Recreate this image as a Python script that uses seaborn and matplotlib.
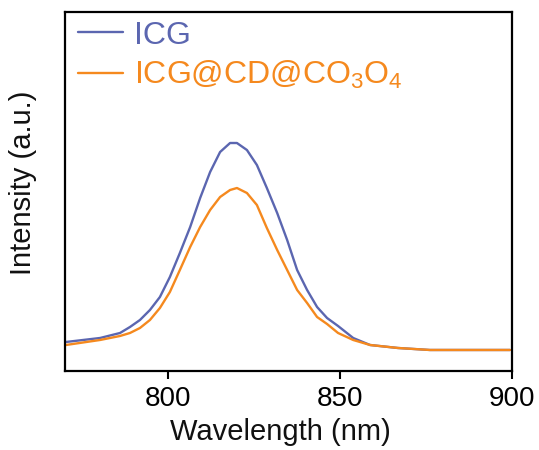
import matplotlib
matplotlib.use("Agg")
import matplotlib.pyplot as plt
import seaborn as sns
import pandas as pd

wl_icg = [770.3, 780.2, 786.0, 788.9, 791.8, 794.7, 797.6, 800.5, 803.4, 806.4, 809.3, 812.2,
          815.1, 818.0, 820.0, 822.9, 825.8, 828.7, 831.7, 834.6, 837.5, 840.4, 843.3, 846.2,
          849.4, 853.8, 858.7, 866.8, 876.1, 887.8, 899.4]
icg = [29, 33, 38, 44, 51, 61, 74, 94, 118, 144, 173, 199,
       219, 228, 228, 221, 206, 183, 158, 131, 101, 81, 64, 53,
       45, 33, 26, 23, 21, 21, 21]

wl_co = [770.3, 780.2, 786.0, 788.9, 791.8, 794.7, 797.6, 800.5, 803.4, 806.4, 809.3, 812.2,
         815.1, 818.0, 820.0, 822.9, 825.8, 828.7, 831.7, 834.6, 837.5, 840.4, 843.3, 846.2,
         849.4, 853.8, 858.7, 866.8, 876.1, 887.8, 899.4]
co = [26, 31, 35, 38, 43, 51, 63, 79, 101, 124, 144, 161,
      174, 181, 183, 178, 166, 143, 121, 101, 81, 68, 54, 47,
      38, 31, 26, 23, 21, 21, 21]

labels = ["ICG", "ICG@CD@CO$_3$O$_4$"]
colors = ["#5b66b0", "#f5891e"]
x_ticks = [800, 850, 900]

df = pd.concat([
    pd.DataFrame({"wl": wl_icg, "val": icg, "s": labels[0]}),
    pd.DataFrame({"wl": wl_co, "val": co, "s": labels[1]}),
])

sns.set_theme(style="white")
plt.rcParams["font.family"] = ["Liberation Sans", "DejaVu Sans"]
plt.rcParams["mathtext.fontset"] = "custom"
plt.rcParams["mathtext.rm"] = "Liberation Sans"
plt.rcParams["mathtext.it"] = "Liberation Sans"
plt.rcParams["mathtext.bf"] = "Liberation Sans"

fig = plt.figure(figsize=(5.39, 4.5), dpi=100)
ax = fig.add_axes([0.1206, 0.1756, 0.8294, 0.7977])
sns.lineplot(data=df, x="wl", y="val", hue="s", palette=colors, linewidth=1.7,
             sort=False, ax=ax, estimator=None)

ax.set_xlim(770, 900)
ax.set_ylim(0, 359)
ax.set_xticks(x_ticks)
ax.set_xticklabels([str(t) for t in x_ticks], fontsize=20, color="black")
ax.set_yticks([])
ax.tick_params(axis="x", direction="out", length=6, width=1.5, bottom=True, pad=5,
               colors="black")
for sp in ax.spines.values():
    sp.set_linewidth(1.6)
    sp.set_color("black")
ax.set_xlabel("Wavelength (nm)", fontsize=21, color="#111111")
ax.set_ylabel("Intensity (a.u.)", fontsize=21, color="#111111")
ax.xaxis.set_label_coords(0.481, -0.13)
ax.yaxis.set_label_coords(-0.063, 0.525)

leg = ax.legend(loc="upper left", bbox_to_anchor=(0.029, 0.976), frameon=False, fontsize=23,
                handlelength=1.4, handletextpad=0.34, labelspacing=0.26,
                borderaxespad=0.0, borderpad=0.0)
for t, c in zip(leg.get_texts(), colors):
    t.set_color(c)
for h in leg.get_lines():
    h.set_linewidth(1.7)

fig.savefig("out.png", dpi=100)
